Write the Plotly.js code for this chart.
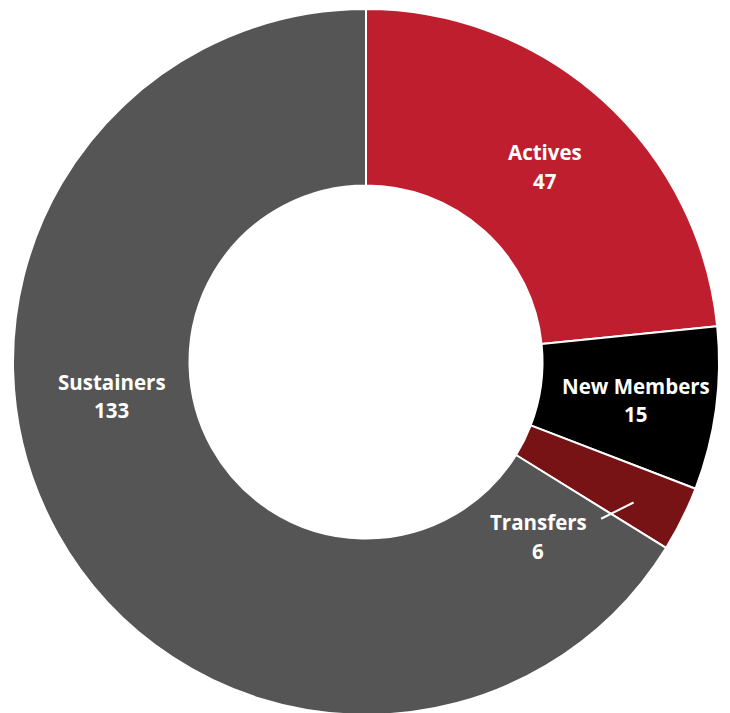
<!DOCTYPE html>
<html>
<head>
<meta charset="utf-8">
<script src="https://cdn.plot.ly/plotly-3.0.1.min.js"></script>
<style>html,body{margin:0;padding:0;overflow:hidden;background:#fff;}</style>
</head>
<body>
<div id="chart" style="width:730px;height:715px;"></div>
<script>
const categories = ['Actives', 'New Members', 'Transfers', 'Sustainers'];
const values = [47, 15, 6, 133];
const colors = ['#BE1E2D', '#000000', '#771315', '#555555'];
// label anchor positions (paper fraction) for each category
const labelX = [0.754, 0.882, 0.744, 0.140];
const labelY = [0.797, 0.466, 0.273, 0.472];
const lineGap = 0.040;

const annotations = [];
categories.forEach((c, i) => {
  annotations.push({xref:'paper', yref:'paper', x:labelX[i], y:labelY[i], text:'<b>'+c+'</b>',
    showarrow:false, xanchor:'center', yanchor:'middle',
    font:{family:'Open Sans', size:20.5, color:'#ffffff'}});
  annotations.push({xref:'paper', yref:'paper', x:labelX[i], y:labelY[i]-lineGap, text:'<b>'+values[i]+'</b>',
    showarrow:false, xanchor:'center', yanchor:'middle',
    font:{family:'Open Sans', size:20.5, color:'#ffffff'}});
});

const data = [{
  type:'pie', labels:categories, values:values, hole:0.5, sort:false, direction:'clockwise',
  rotation:0, marker:{colors:colors, line:{color:'#ffffff', width:2}}, textinfo:'none',
  hoverinfo:'label+value', domain:{x:[0,1], y:[0,1]}
}];

const layout = {
  width:730, height:715, margin:{l:13, r:11, t:9, b:0},
  showlegend:false, paper_bgcolor:'#ffffff',
  annotations:annotations,
  shapes:[{type:'line', xref:'paper', yref:'paper', x0:0.833, y0:0.278, x1:0.879, y1:0.301,
    line:{color:'#ffffff', width:2}}]
};
Plotly.newPlot('chart', data, layout, {displayModeBar:false, staticPlot:true});
</script>
</body>
</html>
